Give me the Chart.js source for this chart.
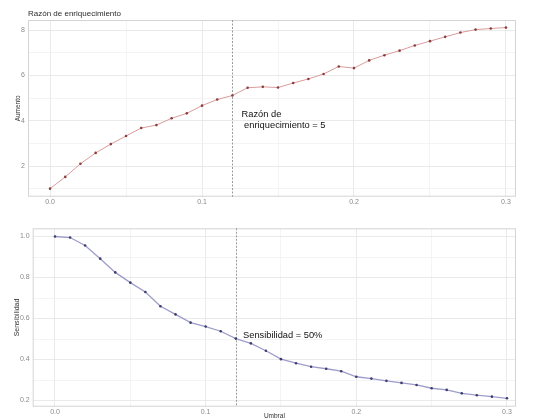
<!DOCTYPE html>
<html>
<head>
<meta charset="utf-8">
<script src="https://cdn.jsdelivr.net/npm/chart.js@4"></script>
<style>
  body { margin: 0; background: #fff; }
  canvas { display: block; }
</style>
</head>
<body>
<canvas id="enrich" width="533" height="210"></canvas>
<canvas id="sens" width="533" height="210"></canvas>
<script>
const thresholds = [0.00, 0.01, 0.02, 0.03, 0.04, 0.05, 0.06, 0.07, 0.08, 0.09,
                    0.10, 0.11, 0.12, 0.13, 0.14, 0.15, 0.16, 0.17, 0.18, 0.19,
                    0.20, 0.21, 0.22, 0.23, 0.24, 0.25, 0.26, 0.27, 0.28, 0.29, 0.30];
const enrichment = [1.00, 1.52, 2.10, 2.58, 2.97, 3.33, 3.68, 3.81, 4.11, 4.33,
                    4.67, 4.94, 5.12, 5.46, 5.50, 5.47, 5.67, 5.85, 6.07, 6.40,
                    6.33, 6.67, 6.90, 7.10, 7.33, 7.52, 7.71, 7.90, 8.03, 8.08, 8.12];
const sensitivity = [1.000, 0.995, 0.956, 0.892, 0.825, 0.775, 0.729, 0.660, 0.620, 0.580,
                     0.561, 0.538, 0.502, 0.479, 0.443, 0.402, 0.382, 0.365, 0.355, 0.343,
                     0.316, 0.307, 0.296, 0.286, 0.276, 0.260, 0.252, 0.235, 0.226, 0.219, 0.211];
const cutoff = 0.12;
const xTickLabels = ['0.0', '0.1', '0.2', '0.3'];
const enrichTickLabels = ['2', '4', '6', '8'];
const sensTickLabels = ['0.2', '0.4', '0.6', '0.8', '1.0'];

const FONT = "'Liberation Sans', Arial, sans-serif";
const MAJOR = '#e4e4e4';
const MINOR = '#f1f1f1';
const TICK_COLOR = '#8a8a8a';

function pts(ys) {
  return thresholds.map((x, i) => ({x: x, y: ys[i]}));
}

// label shown only where it is in the list; grid line major there, minor elsewhere
function fmtX(v) {
  const s = v.toFixed(1);
  return Math.abs(v - Number(s)) < 1e-9 && xTickLabels.includes(s) ? s : '';
}

// draws the panel border, the cut-off line and the texts
function panelPlugin(opt) {
  return {
    id: 'panel',
    beforeDatasetsDraw(chart) {
      const {ctx, chartArea: a, scales} = chart;
      ctx.save();
      ctx.strokeStyle = '#d4d4d4';
      ctx.lineWidth = 1;
      ctx.strokeRect(a.left + 0.5, a.top + 0.5, a.right - a.left - 1, a.bottom - a.top - 1);
      const px = Math.round(scales.x.getPixelForValue(cutoff)) + 0.5;
      ctx.strokeStyle = '#9a9a9a';
      ctx.setLineDash([2, 1.5]);
      ctx.beginPath();
      ctx.moveTo(px, a.top);
      ctx.lineTo(px, a.bottom);
      ctx.stroke();
      ctx.restore();
    },
    afterDraw(chart) {
      const {ctx, chartArea: a, scales} = chart;
      ctx.save();
      if (opt.title) {
        ctx.fillStyle = '#2b2b2b';
        ctx.font = '8px ' + FONT;
        ctx.textBaseline = 'middle';
        ctx.textAlign = 'left';
        ctx.fillText(opt.title, a.left, 14);
      }
      ctx.fillStyle = '#111';
      ctx.font = '9.3px ' + FONT;
      ctx.textBaseline = 'middle';
      ctx.textAlign = 'left';
      opt.notes.forEach(n => {
        ctx.fillText(n.text, scales.x.getPixelForValue(n.x), scales.y.getPixelForValue(n.y));
      });
      ctx.restore();
    }
  };
}

function xScale(o) {
  return {
    type: 'linear',
    min: o.min,
    max: o.max,
    afterFit: s => { s.height = 13.3; },
    ticks: {
      stepSize: 0.05,
      includeBounds: false,
      autoSkip: false,
      maxRotation: 0,
      padding: 1,
      color: TICK_COLOR,
      font: {family: FONT, size: 7},
      callback: v => fmtX(v)
    },
    grid: {
      drawTicks: false,
      lineWidth: 0.8,
      color: c => (c.tick && fmtX(c.tick.value) !== '' ? MAJOR : MINOR)
    },
    border: {display: false},
    title: {
      display: o.showTitle,
      text: 'Umbral',
      color: '#333',
      padding: {top: 0, bottom: 0},
      font: {family: FONT, size: 6.5}
    }
  };
}

function yScale(o) {
  const fmt = v => {
    const s = v.toFixed(o.digits);
    return o.labels.includes(s) ? s : '';
  };
  return {
    type: 'linear',
    min: o.min,
    max: o.max,
    afterFit: s => { s.width = o.width; },
    ticks: {
      stepSize: o.step,
      includeBounds: false,
      padding: 3,
      color: TICK_COLOR,
      font: {family: FONT, size: 7},
      callback: v => fmt(v)
    },
    grid: {
      drawTicks: false,
      lineWidth: 0.8,
      color: c => (c.tick && fmt(c.tick.value) !== '' ? MAJOR : MINOR)
    },
    border: {display: false},
    title: {
      display: true,
      text: o.title,
      color: '#333',
      padding: {top: o.titlePad, bottom: 0},
      font: {family: FONT, size: o.titleSize}
    }
  };
}

new Chart('enrich', {
  type: 'line',
  data: {
    datasets: [{
      data: pts(enrichment),
      borderColor: '#d99c9c',
      borderWidth: 1,
      pointRadius: 1.3,
      pointBackgroundColor: '#8e3d3d',
      pointBorderWidth: 0,
      tension: 0
    }]
  },
  options: {
    responsive: false,
    animation: false,
    layout: {padding: {top: 20, right: 17, bottom: 0, left: 0}},
    plugins: {legend: {display: false}, tooltip: {enabled: false}},
    scales: {
      x: xScale({min: -0.0145, max: 0.3066, showTitle: false}),
      y: yScale({min: 0.645, max: 8.455, step: 1, digits: 0, labels: enrichTickLabels,
                 width: 28, title: 'Aumento', titlePad: 14, titleSize: 6.5})
    }
  },
  plugins: [panelPlugin({
    title: 'Razón de enriquecimiento',
    notes: [{text: 'Razón de', x: 0.126, y: 4.3},
            {text: ' enriquecimiento = 5', x: 0.126, y: 3.8}]
  })]
});

new Chart('sens', {
  type: 'line',
  data: {
    datasets: [{
      data: pts(sensitivity),
      borderColor: '#9d9dcb',
      borderWidth: 1.3,
      pointRadius: 1.3,
      pointBackgroundColor: '#3d3d6e',
      pointBorderWidth: 0,
      tension: 0
    }]
  },
  options: {
    responsive: false,
    animation: false,
    layout: {padding: {top: 18.3, right: 17, bottom: 0, left: 0}},
    plugins: {legend: {display: false}, tooltip: {enabled: false}},
    scales: {
      x: xScale({min: -0.0148, max: 0.306, showTitle: true}),
      y: yScale({min: 0.17, max: 1.04, step: 0.1, digits: 1, labels: sensTickLabels,
                 width: 32.7, title: 'Sensibilidad', titlePad: 12.5, titleSize: 7})
    }
  },
  plugins: [panelPlugin({
    title: '',
    notes: [{text: 'Sensibilidad = 50%', x: 0.1248, y: 0.518}]
  })]
});
</script>
</body>
</html>
